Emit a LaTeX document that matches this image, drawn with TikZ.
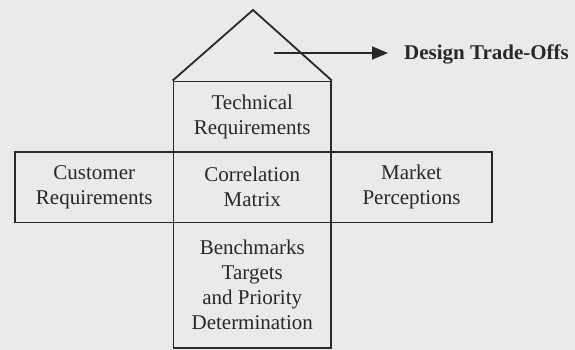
\documentclass[tikz,border=0pt]{standalone}
\usepackage{fontspec}
\setmainfont{Liberation Serif}
\usetikzlibrary{arrows.meta}
\definecolor{paper}{RGB}{234,234,233}
\definecolor{ink}{RGB}{40,40,40}
\begin{document}
\begin{tikzpicture}[x=1pt,y=-1pt,
  cell/.style={draw=ink,line width=1.8pt,rectangle,inner sep=0pt,
    align=center,text=ink,font=\fontsize{21}{25}\selectfont},
  outline/.style={draw=ink,line width=1.8pt,line join=miter},
  label/.style={text=ink,font=\bfseries\fontsize{21}{25}\selectfont,inner sep=0pt}]
  % page background
  \fill[paper] (0,0) rectangle (575,350);
  \useasboundingbox (0,0) rectangle (575,350);
  % the four walls of the house
  \node[cell,minimum width=157.5pt,minimum height=70.5pt] (tech) at (252.25,116.75)
    {Technical\\Requirements};
  \node[cell,minimum width=158.5pt,minimum height=70.5pt] (cust) at (94.25,187.25)
    {Customer\\Requirements};
  \node[cell,minimum width=157.5pt,minimum height=70.5pt] (corr) at (252.25,187.25)
    {Correlation\\Matrix};
  \node[cell,minimum width=161pt,minimum height=70.5pt] (mkt) at (411.5,187.25)
    {Market\\Perceptions};
  \node[cell,minimum width=157.5pt,minimum height=125.5pt] (bench) at (252.25,285.25)
    {Benchmarks\\Targets\\and Priority\\Determination};
  % roof
  \coordinate (apex) at (253,10);
  \draw[outline] (tech.north west) -- (apex) -- (tech.north east);
  % trade-off arrow
  \node[label,anchor=west] (trade) at (404,54) {Design Trade-Offs};
  \coordinate (tail) at (274,53);
  \coordinate (head) at (388,53);
  \draw[ink,line width=1.6pt,-{Triangle[length=16pt,width=13pt]}] (tail) -- (head);
\end{tikzpicture}
\end{document}
